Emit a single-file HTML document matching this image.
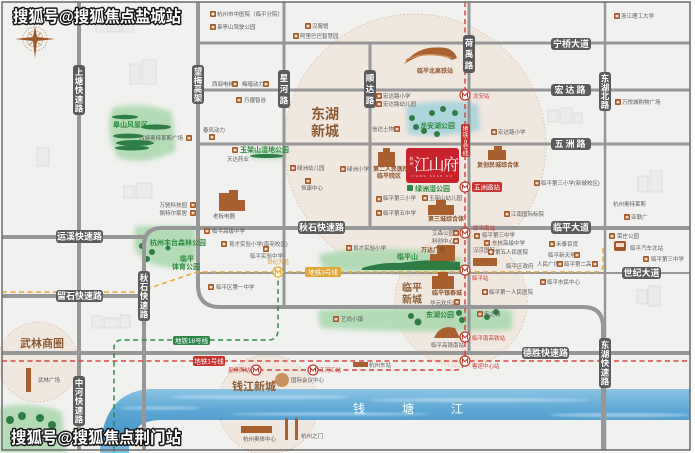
<!DOCTYPE html>
<html><head><meta charset="utf-8">
<style>
html,body{margin:0;padding:0;background:#fff;}
svg{display:block;font-family:"Liberation Sans","Noto Sans CJK SC",sans-serif;}
.p{font-size:5.5px;fill:#5a5a5a;}
.r{font-size:5.5px;fill:#c23a30;}
.g{font-size:7px;fill:#2c8a3e;font-weight:bold;}
.b{font-size:6px;fill:#8a4f25;font-weight:bold;}
.area{fill:#8b5a33;font-weight:bold;}
</style></head><body>
<svg width="695" height="453" viewBox="0 0 695 453" xmlns="http://www.w3.org/2000/svg">
<defs>
<linearGradient id="rv" x1="0" y1="0" x2="0" y2="1">
<stop offset="0" stop-color="#8cc4e3"/><stop offset="0.35" stop-color="#5aa5d3"/><stop offset="0.7" stop-color="#4a98cb"/><stop offset="1" stop-color="#86c0e2"/>
</linearGradient>
<filter id="bl" x="-20%" y="-20%" width="140%" height="140%"><feGaussianBlur stdDeviation="2.5"/></filter>
<filter id="bl1"><feGaussianBlur stdDeviation="1"/></filter>
<g id="ic"><rect width="6" height="6" rx="1" fill="#a4582a"/><rect x="1.5" y="1.8" width="3" height="2.6" fill="#f3dcc8"/></g>
<g id="cr"><rect width="6" height="6" rx="1" fill="#a4582a"/><path d="M3 1.2V4.8M1.2 3H4.8" stroke="#fff" stroke-width="1.2"/></g>
<g id="st"><circle r="5" fill="#fff" stroke="#c0392b" stroke-width="1.2"/><path d="M-2.6 2.2V-2L0 0.6L2.6-2V2.2" fill="none" stroke="#c0392b" stroke-width="1.1"/></g>
<g id="sty"><circle r="5" fill="#fff6e0" stroke="#e0a636" stroke-width="1.2"/><path d="M-2.6 2.2V-2L0 0.6L2.6-2V2.2" fill="none" stroke="#e0a636" stroke-width="1.1"/></g>
</defs>

<rect width="695" height="453" fill="#fafaf9"/>
<rect x="2" y="2" width="688" height="448" fill="#f1f1ef"/>

<!-- district circles -->
<g fill="#efe3da" fill-opacity="0.75" stroke="#dcb9a3" stroke-width="0.8" stroke-dasharray="1.5 2">
<circle cx="415" cy="145" r="131"/>
<circle cx="461" cy="301" r="66"/>
<circle cx="268" cy="405" r="50"/>
<circle cx="38" cy="362" r="40"/>
</g>

<!-- green areas -->
<g fill="#a8d8ad" fill-opacity="0.85" filter="url(#bl)">
<path d="M112,108 Q140,100 172,112 L176,150 Q150,166 118,158 Q104,134 112,108Z"/>
<path d="M135,226 L195,226 L197,258 Q185,272 160,266 Q138,262 134,245Z"/>
<path d="M250,152 Q268,148 286,152 L286,158 Q268,160 250,158Z"/>
<path d="M320,254 Q360,246 420,250 L462,258 L462,272 L330,272 Q318,266 320,254Z"/>
<path d="M318,310 Q400,304 512,310 L512,330 Q420,334 320,328Z"/>
<path d="M0,408 Q30,400 62,412 L66,453 L0,453Z"/>
</g>
<path d="M406,106 Q440,98 478,104 L480,130 Q445,138 408,134Z" fill="#a6d3dc" fill-opacity="0.9" filter="url(#bl)"/>
<!-- dark hills / trees -->
<g fill="#2f7d45">
<ellipse cx="125" cy="117" rx="13" ry="2.2"/>
<ellipse cx="156" cy="127" rx="15" ry="2.6"/>
<ellipse cx="128" cy="136" rx="15" ry="2.4"/>
<ellipse cx="135" cy="143" rx="19" ry="3"/>
<ellipse cx="132" cy="148" rx="17" ry="2.5"/>
<ellipse cx="267" cy="156" rx="17" ry="2"/>
<path d="M362,268 Q380,262 400,263 Q430,258 460,262 L460,270 L362,270Z"/>
<circle cx="142" cy="246" r="3"/><circle cx="152" cy="252" r="3"/><circle cx="147" cy="259" r="3"/><circle cx="168" cy="248" r="2.5"/>
<circle cx="411" cy="316" r="3"/><circle cx="418" cy="322" r="3.5"/><circle cx="459" cy="313" r="3"/><circle cx="462" cy="320" r="3"/><circle cx="487" cy="317" r="3"/><circle cx="496" cy="312" r="3"/>
<circle cx="412" cy="118" r="3"/><circle cx="416" cy="127" r="3"/><circle cx="432" cy="113" r="3"/><circle cx="443" cy="109" r="3"/><circle cx="455" cy="113" r="3"/><circle cx="424" cy="131" r="3"/><circle cx="437" cy="134" r="3"/>
<circle cx="10" cy="420" r="4"/><circle cx="22" cy="416" r="4"/><circle cx="40" cy="418" r="4"/><circle cx="52" cy="425" r="4"/><path d="M20,445 L24,428 L28,445Z"/>
</g>

<!-- river -->
<path d="M690,389 H150 Q102,392 100,453 H129 Q128,421 160,420 H690Z" fill="url(#rv)"/>
<g fill="#c4e2f2" opacity="0.6" filter="url(#bl1)">
<ellipse cx="260" cy="397" rx="90" ry="2"/><ellipse cx="480" cy="400" rx="110" ry="2"/><ellipse cx="620" cy="415" rx="70" ry="2"/><ellipse cx="330" cy="414" rx="100" ry="1.6"/><ellipse cx="160" cy="408" rx="40" ry="1.5"/>
</g>

<!-- gray buildings sketches -->
<g fill="#ececeb" stroke="#d2d2d2" stroke-width="0.6">
<rect x="96" y="22" width="12" height="10"/><rect x="110" y="18" width="10" height="14"/><rect x="122" y="24" width="12" height="8"/>
<rect x="130" y="64" width="10" height="20"/><rect x="142" y="60" width="14" height="24"/>
<rect x="124" y="186" width="10" height="12"/><rect x="136" y="183" width="16" height="15"/>
<rect x="37" y="148" width="12" height="18"/>
<rect x="92" y="316" width="10" height="12"/><rect x="104" y="318" width="14" height="10"/><rect x="120" y="315" width="10" height="13"/>
<rect x="548" y="110" width="10" height="12"/><rect x="560" y="108" width="12" height="15"/><rect x="574" y="113" width="8" height="10"/>
<rect x="638" y="176" width="10" height="16"/><rect x="650" y="171" width="12" height="21"/>
<rect x="637" y="290" width="10" height="14"/><rect x="648" y="286" width="12" height="20"/>
</g>

<!-- roads -->
<g fill="none" stroke="#979797" stroke-linecap="butt">
<path d="M79,2V450" stroke-width="4"/>
<path d="M144,450V246Q144,228 162,228H690" stroke-width="4"/>
<path d="M2,353H690" stroke-width="4"/>
<path d="M2,237H144" stroke-width="4"/>
<path d="M2,296H144" stroke-width="4"/>
<path d="M198,2V285Q198,307 220,307H583Q603,307 603,327V450" stroke-width="4"/>
<path d="M198,43H690" stroke-width="3"/>
<path d="M198,90H690" stroke-width="3"/>
<path d="M198,144H690" stroke-width="3"/>
<path d="M284,2V307" stroke-width="3"/>
<path d="M370,43V228" stroke-width="3"/>
<path d="M469,2V353" stroke-width="3"/>
<path d="M605,2V450" stroke-width="2.5"/>
<path d="M198,273H690" stroke-width="2"/>
</g>

<!-- metro lines -->
<g fill="none" stroke-width="1.5" stroke-dasharray="5 3.5">
<path d="M2,361H690" stroke="#d24a42"/>
<path d="M233,370H455Q463,370 463,364" stroke="#d24a42"/>
<path d="M465,2V361" stroke="#d24a42"/>
<path d="M2,292H138L197,272H596Q603,272 603,265V245" stroke="#e3a73a"/>
<path d="M278,272V330Q278,340 268,340H122Q114,340 114,348V453" stroke="#2d8a4c"/>
</g>

<!-- frame -->
<rect x="2" y="2" width="688" height="448" fill="none" stroke="#6b6b6b" stroke-width="1.5"/>

<!-- road labels -->
<g fill="#5b5b5b">
<rect x="551" y="38" width="40" height="12" rx="3"/>
<rect x="551" y="84" width="40" height="12" rx="3"/>
<rect x="551" y="138" width="40" height="12" rx="3"/>
<rect x="551" y="221" width="40" height="13" rx="3"/>
<rect x="298" y="221" width="47" height="13" rx="3"/>
<rect x="56" y="230" width="47" height="13" rx="3"/>
<rect x="56" y="290" width="47" height="12" rx="3"/>
<rect x="622" y="267" width="39" height="12" rx="3"/>
<rect x="522" y="347" width="47" height="12" rx="3"/>
<rect x="73" y="65" width="12" height="50" rx="3"/>
<rect x="73" y="376" width="12" height="50" rx="3"/>
<rect x="138" y="271" width="12" height="50" rx="3"/>
<rect x="192" y="65" width="12" height="39" rx="3"/>
<rect x="278" y="70" width="12" height="38" rx="3"/>
<rect x="364" y="70" width="12" height="38" rx="3"/>
<rect x="463" y="35" width="12" height="38" rx="3"/>
<rect x="599" y="72" width="12" height="39" rx="3"/>
<rect x="599" y="338" width="12" height="50" rx="3"/>
</g>
<g text-anchor="middle" font-size="9" fill="#fff" font-weight="bold">
<text x="571" y="47.2">宁桥大道</text>
<text x="571" y="93.2" letter-spacing="2">宏达路</text>
<text x="571" y="147.2" letter-spacing="2">五洲路</text>
<text x="571" y="230.7">临平大道</text>
<text x="321.5" y="230.7">秋石快速路</text>
<text x="79.5" y="239.7">运溪快速路</text>
<text x="79.5" y="299.2">留石快速路</text>
<text x="641.5" y="276.2">世纪大道</text>
<text x="545.5" y="356.2">德胜快速路</text>
</g>
<g text-anchor="middle" font-size="8.5" font-weight="bold" fill="#fff">
<text x="79" y="74.8">上</text><text x="79" y="84">塘</text><text x="79" y="93.2">快</text><text x="79" y="102.4">速</text><text x="79" y="111.6">路</text>
<text x="79" y="385.8">中</text><text x="79" y="395">河</text><text x="79" y="404.2">快</text><text x="79" y="413.4">速</text><text x="79" y="422.6">路</text>
<text x="144" y="280.8">秋</text><text x="144" y="290">石</text><text x="144" y="299.2">快</text><text x="144" y="308.4">速</text><text x="144" y="317.6">路</text>
<text x="198" y="74.6">望</text><text x="198" y="83.3">梅</text><text x="198" y="92.1">高</text><text x="198" y="100.8">架</text>
<text x="284" y="80.9">星</text><text x="284" y="92.2">河</text><text x="284" y="103.5">路</text>
<text x="370" y="80.9">顺</text><text x="370" y="92.2">达</text><text x="370" y="103.5">路</text>
<text x="469" y="45.9">荷</text><text x="469" y="57.2">禹</text><text x="469" y="68.5">路</text>
<text x="605" y="81.6">东</text><text x="605" y="90.3">湖</text><text x="605" y="99.1">北</text><text x="605" y="107.8">路</text>
<text x="605" y="347.8">东</text><text x="605" y="357">湖</text><text x="605" y="366.2">快</text><text x="605" y="375.4">速</text><text x="605" y="384.6">路</text>
</g>

<!-- metro labels -->
<rect x="193" y="356" width="32" height="10" rx="2" fill="#c8332f"/>
<text x="209" y="363.5" font-size="6.5" fill="#fff" text-anchor="middle">地铁1号线</text>
<rect x="305" y="267" width="36" height="10" rx="2" fill="#e0a636"/>
<text x="323" y="274.5" font-size="6.5" fill="#fff" text-anchor="middle">地铁3号线</text>
<rect x="173" y="336" width="37" height="9" rx="2" fill="#2d8548"/>
<text x="191.5" y="343" font-size="6.5" fill="#fff" text-anchor="middle">地铁18号线</text>
<rect x="461" y="124" width="9" height="33" rx="2" fill="#c8332f"/>
<g font-size="6" fill="#fff" text-anchor="middle"><text x="465.5" y="131">地</text><text x="465.5" y="137.5">铁</text><text x="465.5" y="144">9</text><text x="465.5" y="149.5">号</text><text x="465.5" y="155.5">线</text></g>

<!-- stations -->
<use href="#st" x="465" y="95"/>
<use href="#st" x="465" y="187"/>
<use href="#st" x="465" y="233"/>
<use href="#st" x="465" y="270"/>
<use href="#st" x="465" y="337"/>
<use href="#st" x="465" y="361"/>
<use href="#st" x="256" y="370"/>
<use href="#st" x="313" y="370"/>
<use href="#sty" x="278" y="272"/>
<text x="473" y="98" class="r">龙安站</text>
<rect x="472" y="182" width="30" height="10" rx="2" fill="#c8332f"/>
<text x="487" y="189.5" font-size="6.5" fill="#fff" text-anchor="middle">五洲路站</text>
<text x="473" y="230" class="r">临平南站</text>
<text x="472" y="280" class="r">临平站</text>
<text x="472" y="340" class="r">临平南高铁站</text>
<text x="472" y="368" class="r">客运中心站</text>
<text x="250" y="372" class="r" text-anchor="end">星桥西站</text>
<text x="319" y="372" class="r">江河汇站</text>
<text x="278" y="264" font-size="5.5" fill="#d49a2c" text-anchor="middle">世纪大道</text>

<!-- project -->
<rect x="406" y="148" width="53" height="35" rx="3" fill="#c8232c"/>
<text x="414" y="170" font-size="16" fill="#fff" font-family="'Liberation Serif','Noto Serif CJK SC',serif" letter-spacing="-1.5">江山府</text>
<text x="409.5" y="160" font-size="4" fill="#fff">杭</text><text x="409.5" y="165" font-size="4" fill="#fff">州</text>
<text x="432" y="177" font-size="3" fill="#f6d0d0" text-anchor="middle" letter-spacing="1.5">JIANG SHAN FU</text>
<rect x="407" y="185" width="6" height="6" rx="1" fill="#2d8548"/>
<text x="415" y="191" class="g" font-size="6.5">绿洲湿公园</text>

<!-- area names -->
<text x="311" y="119" class="area" font-size="14">东湖</text>
<text x="311" y="136" class="area" font-size="14">新城</text>
<text x="402" y="291" class="area" font-size="10">临平</text>
<text x="402" y="303" class="area" font-size="10">新城</text>
<text x="232" y="390" class="area" font-size="11">钱江新城</text>
<text x="20" y="347" class="area" font-size="11">武林商圈</text>
<g font-size="12" fill="#fff"><text x="353" y="413">钱</text><text x="402" y="413">塘</text><text x="451" y="413">江</text></g>

<!-- park labels -->
<text x="113" y="127" class="g" font-size="8.5">皋山风景区</text>
<text x="240" y="152" class="g">玉架山湿地公园</text>
<text x="150" y="245" class="g" font-size="6.5">杭州丰台森林公园</text>
<text x="180" y="261" class="g" font-size="6.5">临平</text>
<text x="172" y="269" class="g" font-size="6.5">体育公园</text>
<text x="397" y="259" class="g">临平山</text>
<text x="426" y="317" class="g">东湖公园</text>
<text x="420" y="128" class="g" font-size="6.5">龙安湖公园</text>

<!-- brown buildings -->
<g fill="#a9602e">
<path d="M404,64 Q418,44 446,48 Q454,50 457,58 L452,60 Q440,52 420,56 Q410,60 404,64Z"/>
<path d="M406,60 Q426,50 452,58" stroke="#c98a5a" stroke-width="1.5" fill="none"/>
<rect x="378" y="152" width="17" height="15"/><rect x="383" y="148" width="7" height="5"/>
<rect x="488" y="150" width="18" height="10"/><rect x="494" y="146" width="8" height="5"/>
<rect x="428" y="205" width="26" height="10"/><rect x="436" y="200" width="10" height="6"/>
<rect x="437" y="245" width="18" height="16"/><rect x="430" y="254" width="8" height="7"/>
<rect x="432" y="276" width="22" height="13"/><rect x="438" y="272" width="10" height="5"/>
<rect x="219" y="193" width="10" height="18"/><rect x="229" y="190" width="9" height="21"/><rect x="238" y="200" width="7" height="11"/>
<rect x="473" y="258" width="24" height="8"/>
<path d="M434,338 Q440,324 455,328 L460,338Z"/>
<rect x="241" y="426" width="31" height="7"/>
<rect x="285" y="418" width="3" height="22"/><rect x="295" y="418" width="3" height="22"/>
<circle cx="282" cy="380" r="7" fill="#c7905f"/>
<rect x="26" y="368" width="5" height="24"/>
<rect x="353" y="362" width="15" height="5"/>
</g>
<!-- compass -->
<g stroke="#a8622f" fill="none">
<circle cx="35" cy="39" r="12" stroke-width="0.8" stroke-dasharray="1.5 1.2" stroke="#c59a7a"/>
<circle cx="35" cy="39" r="8" stroke-width="0.6" stroke="#c59a7a"/>
</g>
<g fill="#9e5524">
<path d="M35,26 L37,37 L35,39 L33,37Z"/><path d="M35,58 L37,41 L35,39 L33,41Z"/>
<path d="M15,39 L33,37 L35,39 L33,41Z"/><path d="M55,39 L37,37 L35,39 L37,41Z"/>
<path d="M28,32 L35,39 L31,34Z"/><path d="M42,32 L35,39 L39,34Z"/><path d="M28,46 L35,39 L31,44Z"/><path d="M42,46 L35,39 L39,44Z"/>
</g>

<!-- POIs -->
<use href="#cr" x="210" y="11"/><text x="217" y="16" class="p">杭州市中医院（临平分院）</text>
<use href="#ic" x="210" y="24"/><text x="217" y="29" class="p">皋亭山驾驶公园</text>
<use href="#ic" x="305" y="23"/><text x="312" y="28" class="p">汉服馆</text>
<use href="#ic" x="293" y="33"/><text x="300" y="38" class="p">阿里巴巴智慧园</text>
<use href="#ic" x="614" y="13"/><text x="621" y="18" class="p">浙江理工大学</text>
<text x="212" y="86" class="p">西部电梯</text><use href="#ic" x="232" y="81"/>
<text x="242" y="86" class="p">梅暗动力</text><use href="#ic" x="263" y="81"/>
<use href="#ic" x="236" y="97"/><text x="244" y="102" class="p">万疆智谷</text>
<text x="203" y="132" class="p">春风动力</text><use href="#ic" x="209" y="134"/>
<use href="#ic" x="186" y="135"/><text x="183" y="140" class="p" text-anchor="end">西塘奥特莱斯广场</text>
<use href="#ic" x="232" y="147"/><text x="227" y="161" class="p">天达药业</text>
<use href="#ic" x="190" y="202"/><text x="187" y="207" class="p" text-anchor="end">万驰科技园</text>
<use href="#ic" x="190" y="210"/><text x="187" y="215" class="p" text-anchor="end">佩特尔家居</text>
<text x="213" y="218" class="p">老板电器</text>
<use href="#ic" x="290" y="165"/><text x="297" y="170" class="p">绿洲幼儿园</text>
<use href="#ic" x="305" y="178"/><text x="301" y="190" class="p">恒康中心</text>
<use href="#ic" x="340" y="166"/><text x="347" y="171" class="p">绿洲小学</text>
<use href="#ic" x="376" y="93"/><text x="383" y="98" class="p">宏达路小学</text>
<use href="#ic" x="376" y="101"/><text x="383" y="106" class="p">宏达路幼儿园</text>
<text x="372" y="131" class="p">信达土物</text><use href="#ic" x="394" y="126"/>
<use href="#ic" x="491" y="129"/><text x="498" y="134" class="p">宏达路小学</text>
<text x="417" y="73" class="b">临平北高铁站</text>
<text x="373" y="171" class="b" font-size="5.5">第二人民医院</text>
<text x="377" y="178" class="b" font-size="5.5">临平院区</text>
<use href="#ic" x="376" y="196"/><text x="383" y="200" class="p">临平第三小学</text>
<use href="#ic" x="376" y="210"/><text x="383" y="215" class="p">临平第五中学</text>
<use href="#ic" x="422" y="195"/><text x="429" y="200" class="p">玉架山幼儿园</text>
<text x="428" y="221" class="b">第三城综合体</text>
<text x="477" y="167" class="b">复创民城综合体</text>
<use href="#ic" x="534" y="180"/><text x="541" y="185" class="p">临平第三小学(新城校区)</text>
<use href="#ic" x="504" y="211"/><text x="511" y="216" class="p">江南国际标院</text>
<use href="#ic" x="615" y="99"/><text x="622" y="104" class="p">万悦城购物广场</text>
<text x="613" y="206" class="p">杭州奥特莱斯</text>
<use href="#ic" x="624" y="214"/><text x="631" y="219" class="p">亚联广</text>
<use href="#ic" x="204" y="228"/><text x="212" y="233" class="p">临平高级中学</text>
<use href="#ic" x="221" y="241"/><text x="229" y="246" class="p">育才实验小学(南苑校区)</text>
<use href="#ic" x="263" y="246"/><text x="250" y="258" class="p">临平实验中学</text>
<use href="#ic" x="208" y="284"/><text x="216" y="289" class="p">临平区第一中学</text>
<use href="#ic" x="346" y="245"/><text x="353" y="250" class="p">育才实验小学</text>
<text x="432" y="235" class="p">艾森公园</text><use href="#ic" x="453" y="230"/>
<text x="432" y="243" class="p">科创中心</text><use href="#ic" x="453" y="238"/>
<text x="421" y="252" class="b">万达广场</text>
<text x="432" y="295" class="b">临平银泰城</text>
<text x="430" y="305" class="p">华元欢乐城</text><use href="#ic" x="454" y="299"/>
<text x="431" y="347" class="p">临平高铁南站</text>
<use href="#ic" x="333" y="316"/><text x="341" y="321" class="p">艺尚小镇</text>
<use href="#ic" x="477" y="311"/><text x="484" y="316" class="p">乐之城</text>
<use href="#ic" x="474" y="233"/><text x="482" y="237" class="p">临平第三中学</text>
<use href="#ic" x="484" y="240"/><text x="492" y="245" class="p">东杭高级中学</text>
<text x="473" y="252" class="p">汉京国际</text>
<use href="#cr" x="488" y="249"/><text x="495" y="254" class="p">第五人民医院</text>
<text x="506" y="268" class="p">临平区政府</text>
<use href="#ic" x="549" y="241"/><text x="556" y="246" class="p">禾泰百货</text>
<text x="548" y="257" class="p">临平新天地</text><use href="#ic" x="574" y="252"/>
<text x="537" y="266" class="p">人民广场</text><use href="#ic" x="557" y="261"/>
<text x="564" y="266" class="p">临平第二高中</text><use href="#ic" x="592" y="261"/>
<use href="#ic" x="540" y="279"/><text x="547" y="284" class="p">临平市民中心</text>
<use href="#cr" x="482" y="289"/><text x="489" y="294" class="p">临平第一人民医院</text>
<use href="#ic" x="609" y="233"/><text x="617" y="238" class="p">荣庄公园</text>
<rect x="614" y="241" width="12" height="10" rx="2" fill="#a4582a"/><rect x="616" y="243" width="8" height="4" fill="#f3dcc8"/>
<text x="630" y="250" class="p">临平汽车北站</text>
<use href="#ic" x="643" y="256"/><text x="651" y="261" class="p">临平第三中学</text>
<text x="369" y="367" class="p">杭州东站</text>
<text x="291" y="382" class="p">国际会议中心</text>
<text x="243" y="441" class="p">杭州奥体中心</text>
<text x="301" y="438" class="p">杭州之门</text>
<text x="38" y="382" class="p">武林广场</text>

<!-- watermarks -->
<g font-size="16" font-weight="bold" fill="#fff" stroke="#1a1a1a" stroke-width="3" paint-order="stroke" stroke-linejoin="round">
<text x="13" y="22" textLength="168" lengthAdjust="spacingAndGlyphs">搜狐号@搜狐焦点盐城站</text>
<text x="11" y="443" textLength="170" lengthAdjust="spacingAndGlyphs">搜狐号@搜狐焦点荆门站</text>
</g>
</svg>
</body></html>
